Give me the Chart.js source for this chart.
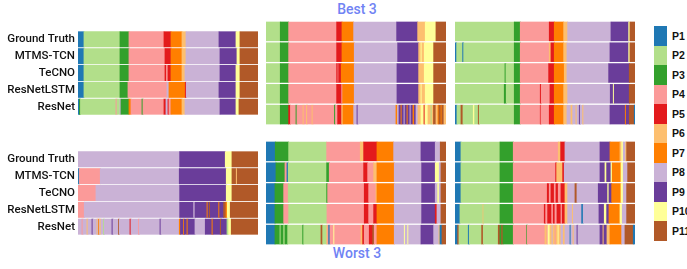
<!DOCTYPE html>
<html>
<head>
<meta charset="utf-8">
<script src="https://cdn.jsdelivr.net/npm/chart.js@4"></script>
<style>
body { margin: 0; width: 687px; height: 269px; position: relative; background: #fff; overflow: hidden; }
canvas { position: absolute; }
.title { position: absolute; left: 257px; width: 200px; text-align: center; color: #7083f4; font: 500 14px Roboto, sans-serif; }
#legend { position: absolute; left: 654px; top: 26px; white-space: nowrap; }
.item { height: 19.5px; display: flex; align-items: center; }
.box { width: 13px; height: 19.5px; }
.lab { margin-left: 5px; font: bold 10.5px "Liberation Sans", Arial, sans-serif; color: #111; }
</style>
</head>
<body>
<div class="title" style="top:1px">Best 3</div>
<div class="title" style="top:245px">Worst 3</div>
<canvas id="b1" width="258" height="104" style="left:0;top:21px"></canvas>
<canvas id="b2" width="180" height="104" style="left:266px;top:21px"></canvas>
<canvas id="b3" width="180" height="104" style="left:455px;top:21px"></canvas>
<canvas id="w1" width="258" height="104" style="left:0;top:141px"></canvas>
<canvas id="w2" width="180" height="104" style="left:266px;top:141px"></canvas>
<canvas id="w3" width="180" height="104" style="left:455px;top:141px"></canvas>
<div id="legend"></div>
<script>
// rows of every panel
const models = ['Ground Truth', 'MTMS-TCN', 'TeCNO', 'ResNetLSTM', 'ResNet'];
const phases = ['P1', 'P2', 'P3', 'P4', 'P5', 'P6', 'P7', 'P8', 'P9', 'P10', 'P11'];
const phaseColors = ['#1f78b4', '#b2df8a', '#33a02c', '#fb9a99', '#e31a1c', '#fdbf6f',
                     '#ff7f00', '#cab2d6', '#6a3d9a', '#ffff99', '#b15928'];

// each row: runs of [phase, end time], a run starts where the previous ends (video length 180)
const best1 = [
    [[1,6],[2,42],[3,51],[4,86],[5,93],[7,104],[6,108],[8,141],[9,158],[10,162],[11,180]],
    [[1,6],[2,42],[3,51],[4,87],[5,93],[7,104],[6,108],[8,142],[9,159],[10,162],[11,180]],
    [[1,6],[2,42],[3,51],[4,87],[5,88.5],[4,90],[5,93],[7,104],[6,107],[8,142],[9,158],[10,162],[11,180]],
    [[1,6],[2,42],[3,50],[4,89],[8,91],[7,107.3],[5,108.3],[8,141],[9,158],[10,162],[11,180]],
    [[1,1.5],[3,2.5],[2,38],[4,39],[2,42],[8,43],[3,51],[7,53],[4,64],[3,65],[4,86],[5,88],[8,90],[5,91],[4,93],
     [7,104],[6,107],[8,142],[9,158],[10,161],[11,180]]
];
const best2 = [
    [[2,14.3],[3,22.7],[4,70.7],[5,76],[7,87.7],[8,130.7],[9,151.7],[6,159.3],[10,170],[11,180]],
    [[2,14.3],[3,22.7],[4,70.7],[5,76],[7,88.3],[8,131.7],[9,152.7],[6,155],[10,156],[6,158.3],[10,167.7],[11,180]],
    [[2,14.3],[3,22.7],[4,70.7],[5,72],[4,72.7],[5,75.3],[7,88.3],[8,131],[9,152.7],[6,158.3],[10,167.7],[11,180]],
    [[2,14.3],[3,22.7],[4,70.7],[5,75.7],[4,76.7],[7,88.3],[8,131],[9,152.7],[6,155],[10,156],[6,159.3],[10,167.7],[11,180]],
    [[2,14.3],[3,22.7],[5,24.5],[4,30],[3,31],[4,37],[6,38],[4,40.5],[6,41.5],[4,46],[6,47],[4,68.5],[3,69.5],[4,71.7],
     [5,75.7],[6,77],[7,87.7],[8,91],[9,92],[8,130],[7,131.5],[8,133],[9,135],[7,136],[9,138],[8,139],[9,141],[7,142],
     [9,144],[8,145],[9,147],[7,148.5],[9,150],[8,152],[6,155],[10,158],[5,159],[10,162],[6,165],[2,166],[6,167.5],
     [11,170],[6,172],[7,173],[11,175],[7,176],[11,178],[6,180]]
];
const best3 = [
    [[2,59.3],[3,65.3],[4,94.3],[5,99.3],[7,108.7],[6,112.7],[8,156],[9,173.7],[10,175],[11,180]],
    [[1,1.7],[2,7.7],[1,8.7],[2,59.3],[3,65.3],[4,94.3],[6,96],[5,99.3],[7,108.7],[6,112],[8,155],[9,173.7],[10,175],[11,180]],
    [[2,50],[3,51],[2,59.3],[3,65.3],[4,93.7],[5,99.3],[7,109.3],[6,112],[8,153.7],[9,174.3],[11,180]],
    [[2,49.3],[3,51.3],[2,59.3],[3,65.3],[4,85.3],[5,86.3],[4,95],[5,99.3],[7,108.7],[6,112.7],[8,155.3],[9,158.3],
     [10,159.3],[9,174.3],[11,180]],
    [[1,2],[2,6],[11,8],[2,18.3],[10,19.7],[2,23.3],[11,24.3],[2,59.3],[3,65.3],[4,85.3],[5,86],[4,94.3],[5,99.3],
     [7,108.7],[6,112],[8,116],[6,117.7],[8,121],[6,122],[8,124.3],[9,125.3],[8,127.7],[6,128.7],[8,155],[9,170.3],
     [7,171.3],[9,174.3],[11,179.3],[1,180]]
];
const worst1 = [
    [[8,101.7],[9,147.3],[10,154],[11,180]],
    [[1,1.3],[4,22.3],[8,101.3],[9,148.3],[10,154],[11,158.3],[6,159.3],[11,180]],
    [[4,18],[8,101.7],[9,148.3],[10,154],[11,180]],
    [[4,6.3],[8,101.7],[9,115.7],[8,117],[9,129],[7,130],[9,131.3],[11,132.3],[9,140.7],[7,141.7],[9,145.7],[11,148],
     [7,149.3],[10,152.3],[11,180]],
    [[8,4],[4,5],[8,9],[6,10],[8,14],[9,15],[8,19],[6,19.7],[8,20.5],[7,21.3],[8,22],[6,23],[8,25.5],[2,26.3],[8,34],
     [9,35],[8,40.5],[11,41.3],[8,52],[5,53],[8,60.5],[4,61.3],[8,82],[9,83],[8,101.3],[7,102.5],[9,105.5],[7,106.3],
     [9,109],[7,110],[9,117],[8,127.3],[9,134],[7,135],[9,142.3],[11,143.3],[9,149],[2,150.7],[10,153.3],[11,180]]
];
const worst2 = [
    [[1,9.3],[3,22.7],[2,60.7],[4,94.3],[6,97.7],[5,111],[7,127.7],[8,155],[9,169.3],[8,174.3],[11,180]],
    [[1,10],[3,19],[4,21],[1,22.3],[2,60.7],[3,63.3],[4,97.7],[5,101.7],[4,107.7],[6,111],[7,128.3],[8,155.7],
     [9,169.3],[10,173.3],[8,175],[11,180]],
    [[1,9],[3,17.7],[4,22.3],[2,60.7],[3,61.7],[4,98.3],[5,102.7],[4,110],[6,111],[7,128.3],[8,155.7],[9,169.3],
     [8,171.7],[10,173.3],[8,175],[11,180]],
    [[1,9],[3,17.7],[4,22.7],[2,61],[4,98.3],[5,102.7],[4,107.7],[5,111],[7,128.3],[8,155.7],[9,169.3],[5,171],
     [8,175],[11,180]],
    [[1,9],[3,14],[2,15],[3,17.7],[2,19],[3,21.7],[2,36.7],[3,37.7],[2,55],[11,56.7],[2,60.7],[6,61.7],[4,62.7],
     [1,64],[4,67.7],[10,68.7],[4,95],[6,96.7],[5,98.3],[4,103.3],[5,106.7],[11,108.3],[4,111],[7,128.3],[8,138.3],
     [10,139.3],[8,141.7],[10,142.7],[8,155],[9,167.7],[8,173],[6,174],[1,176],[11,180]]
];
const worst3 = [
    [[1,6],[2,45],[3,58.3],[4,103.3],[6,105.7],[5,110],[8,145],[9,155],[7,165],[6,166.7],[10,168.3],[8,170.7],
     [6,171.7],[11,180]],
    [[1,6],[2,45],[3,58.3],[4,100.7],[5,101.7],[6,107.7],[5,109.3],[8,145],[9,150],[10,151.7],[9,156],[10,157.3],
     [7,166],[10,168.3],[8,172.7],[11,180]],
    [[1,6],[2,45],[3,58.3],[4,92.3],[5,94.3],[4,96],[5,99.3],[4,101],[5,103.3],[4,106],[5,110],[6,112.7],[8,120],
     [11,122],[8,143.3],[9,152.7],[10,154],[9,156.7],[7,166],[10,168.3],[8,171.7],[11,180]],
    [[1,5],[2,28],[6,28.7],[2,45],[3,58.3],[4,89.3],[5,90.7],[4,92.7],[5,96.7],[4,98.3],[5,100],[4,102],[5,106],
     [4,107.3],[5,110],[6,112.7],[8,117.3],[6,118.3],[8,126.7],[1,128.3],[8,144],[9,149.3],[10,151.7],[9,154],
     [7,165],[10,167.3],[8,171.7],[11,180]],
    [[1,2.7],[11,4],[2,13.3],[1,14.3],[2,26.7],[11,28.3],[2,43.3],[11,45],[3,46.7],[11,48],[3,58.3],[4,71.7],
     [3,72.3],[4,90],[6,92],[4,93],[10,95],[6,97],[8,98],[6,100],[4,101],[6,103],[10,104],[6,106],[8,108.3],[6,110],
     [8,115],[1,116],[8,118],[6,119],[8,122],[9,123],[8,145],[9,148],[6,149],[9,152],[6,155],[7,166.7],[8,170],
     [11,178.3],[1,180]]
];

// 한 패널 = 가로 floating bar 차트
const drawPanel = (id, rows, showLabels)=>{
    const points = [];
    const colors = [];
    rows.forEach((runs, r) => {
        let start = 0;
        runs.forEach(([phase, end]) => {
            points.push({ x: [start, end], y: models[r] });
            colors.push(phaseColors[phase - 1]);
            start = end;
        });
    });
    const yAxis = {
        display: showLabels,
        grid: { display: false, drawTicks: false },
        border: { display: false },
        ticks: { color: '#111', padding: 3, font: { family: 'Roboto', size: 11.5, weight: '500' } }
    };
    if (showLabels) {
        yAxis.afterFit = (scale) => { scale.width = 78; };
    }
    new Chart(document.getElementById(id), {
        type: 'bar',
        data: {
            labels: models,
            datasets: [{
                data: points,
                backgroundColor: colors,
                borderWidth: 0,
                inflateAmount: 0.4,
                categoryPercentage: 1,
                barPercentage: 0.9,
                grouped: false
            }]
        },
        options: {
            indexAxis: 'y',
            responsive: false,
            animation: false,
            layout: { padding: 0 },
            plugins: { legend: { display: false }, tooltip: { enabled: false } },
            scales: {
                x: { type: 'linear', min: 0, max: 180, display: false },
                y: yAxis
            }
        }
    });
};

drawPanel('b1', best1, true);
drawPanel('b2', best2, false);
drawPanel('b3', best3, false);
drawPanel('w1', worst1, true);
drawPanel('w2', worst2, false);
drawPanel('w3', worst3, false);

// 범례
const legend = document.getElementById('legend');
phases.forEach((p, i) => {
    legend.insertAdjacentHTML('beforeend',
        `<div class="item"><div class="box" style="background:${phaseColors[i]}"></div><span class="lab">${p}</span></div>`);
});
</script>
</body>
</html>
